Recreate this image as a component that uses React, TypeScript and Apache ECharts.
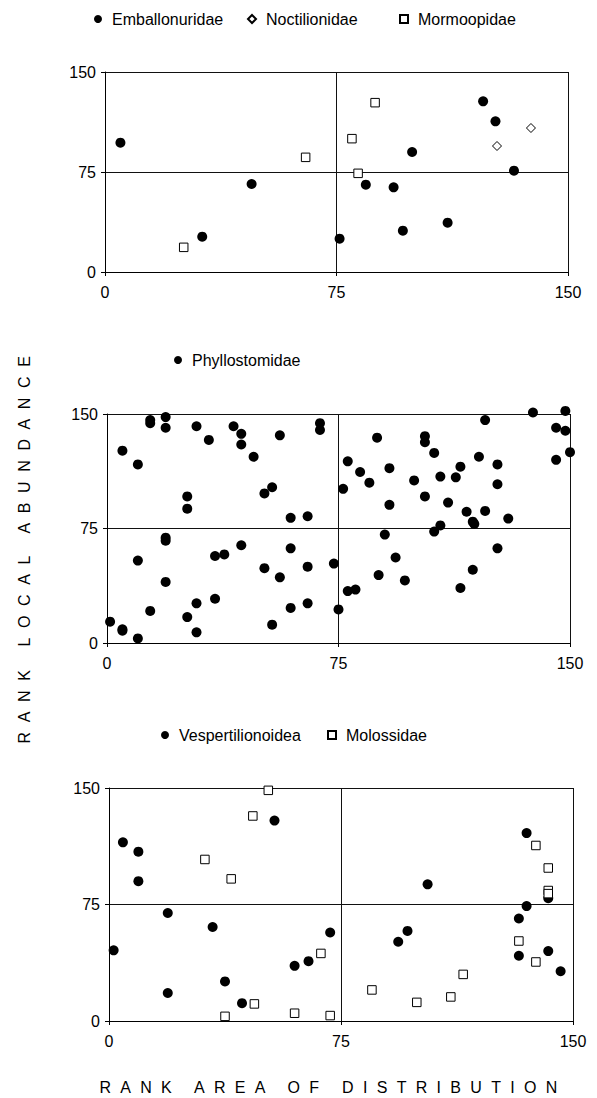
import React, { useEffect, useRef } from "react";
import * as echarts from "echarts";

// ---- data (rank area of distribution, rank local abundance) ----
const ticks = [0, 75, 150];

const emballonuridae: number[][] = [
  [5, 97], [31.5, 26.5], [47.5, 66], [76, 25], [84.5, 65.5], [93.5, 63.5],
  [96.5, 31], [99.5, 90], [111, 37], [122.5, 128], [126.5, 113], [132.5, 76],
];
const noctilionidae: number[][] = [[127, 94.5], [138, 108]];
const mormoopidae: number[][] = [
  [25.5, 18.5], [65, 86], [80, 100], [82, 74], [87.5, 127],
];

const phyllostomidae: number[][] = [
  [1, 14], [5, 126], [5, 9], [5, 8], [10, 117], [10, 54], [10, 3], [14, 146],
  [14, 144], [14, 21], [19, 148], [19, 141], [19, 69], [19, 67], [19, 40],
  [26, 96], [26, 88], [26, 17], [29, 142], [29, 26], [29, 7], [33, 133],
  [35, 57], [35, 29], [38, 58], [41, 142], [43.5, 137], [43.5, 130], [43.5, 64],
  [47.5, 122], [51, 98], [51, 49], [53.5, 102], [53.5, 12], [56, 136], [56, 43],
  [59.5, 82], [59.5, 62], [59.5, 23], [65, 83], [65, 50], [65, 26], [69, 144],
  [69, 139.5], [73.5, 52], [75, 22], [76.5, 101], [78, 119], [78, 34],
  [80.5, 35], [82, 112], [85, 105], [87.5, 134.5], [88, 44.5], [90, 71],
  [91.5, 114.5], [91.5, 90.5], [93.5, 56], [96.5, 41], [99.5, 106.5],
  [103, 135.5], [103, 131.5], [103, 96], [106, 124.5], [106, 73], [108, 77],
  [108, 109], [110.5, 92], [113, 108.5], [114.5, 115.5], [114.5, 36],
  [116.5, 86], [118.5, 79.5], [119, 78], [118.5, 48], [120.5, 122],
  [122.5, 146], [122.5, 86.5], [126.5, 117], [126.5, 104], [126.5, 62],
  [130, 81.5], [138, 151], [145.5, 141], [145.5, 120], [148.5, 152],
  [148.5, 139], [150, 125],
];

const vespertilionoidea: number[][] = [
  [1.5, 45.5], [4.5, 115], [9.5, 109], [9.5, 90], [19, 69.5], [19, 18],
  [33.5, 60.5], [37.5, 25.5], [43, 11.5], [53.5, 129], [60, 35.5], [64.5, 38.5],
  [71.5, 57], [93.5, 51], [96.5, 58], [103, 88], [132.5, 66], [132.5, 42],
  [135, 121], [135, 74], [142, 79], [142, 45], [146, 32],
];
const molossidae: number[][] = [
  [31, 104], [37.5, 3], [39.5, 91.5], [46.5, 132], [47, 11], [51.5, 148.5],
  [60, 5], [68.5, 43.5], [71.5, 3.5], [85, 20], [99.5, 12], [110.5, 15.5],
  [114.5, 30], [132.5, 51.5], [138, 113], [138, 38], [142, 98.5], [142, 84],
  [142, 82],
];

const xTitle = "RANK AREA OF DISTRIBUTION";
const yTitle = "RANK LOCAL ABUNDANCE";

const FONT = "'Liberation Sans', Arial, Helvetica, sans-serif";

export default function App() {
  const ref = useRef<HTMLDivElement>(null);

  useEffect(() => {
    if (!ref.current) return;
    const chart = echarts.init(ref.current, undefined, { renderer: "svg" });

    const grids = [
      { left: 105, top: 72, width: 463, height: 200 },
      { left: 107, top: 414, width: 463, height: 229 },
      { left: 109, top: 788, width: 464, height: 233 },
    ];

    const axisCommon = (gridIndex: number, isX: boolean) => ({
      gridIndex,
      type: "value",
      min: ticks[0],
      max: ticks[ticks.length - 1],
      interval: ticks[1] - ticks[0],
      axisLine: { show: true, onZero: false, lineStyle: { color: "#000", width: 1 } },
      axisTick: { show: true, length: 4, lineStyle: { color: "#000", width: 1 } },
      axisLabel: {
        color: "#000",
        fontSize: 16,
        fontFamily: FONT,
        margin: isX ? 12 : 9,
      },
      splitLine: { show: true, lineStyle: { color: "#111", width: 1 } },
    });

    const filled = { color: "#000", opacity: 1 };
    const hollow = { color: "#fff", borderColor: "#000", borderWidth: 1, opacity: 1 };

    const series: any[] = [
      { name: "Emballonuridae", data: emballonuridae, g: 0, symbol: "circle", size: 10, style: filled },
      { name: "Noctilionidae", data: noctilionidae, g: 0, symbol: "diamond", size: 9, style: hollow },
      { name: "Mormoopidae", data: mormoopidae, g: 0, symbol: "rect", size: 8.5, style: hollow },
      { name: "Phyllostomidae", data: phyllostomidae, g: 1, symbol: "circle", size: 10, style: filled },
      { name: "Vespertilionoidea", data: vespertilionoidea, g: 2, symbol: "circle", size: 10, style: filled },
      { name: "Molossidae", data: molossidae, g: 2, symbol: "rect", size: 8.5, style: hollow },
    ].map((s) => ({
      type: "scatter",
      name: s.name,
      data: s.data,
      xAxisIndex: s.g,
      yAxisIndex: s.g,
      symbol: s.symbol,
      symbolSize: s.size,
      itemStyle: s.style,
      clip: false,
      silent: true,
    }));

    const legendPos: [string, number, number][] = [
      ["Emballonuridae", 94, 11],
      ["Noctilionidae", 247, 11],
      ["Mormoopidae", 399, 11],
      ["Phyllostomidae", 174, 352],
      ["Vespertilionoidea", 161, 727],
      ["Molossidae", 327, 727],
    ];

    chart.setOption({
      animation: false,
      grid: grids,
      xAxis: grids.map((_, i) => axisCommon(i, true)),
      yAxis: grids.map((_, i) => axisCommon(i, false)),
      legend: legendPos.map(([name, left, top]) => ({
        data: [name],
        left,
        top,
        padding: 0,
        itemWidth: 8,
        itemHeight: 8,
        selectedMode: false,
        textStyle: {
          fontSize: 16,
          fontFamily: FONT,
          color: "#000",
          padding: [0, 0, 0, 5],
        },
      })),
      graphic: [
        {
          type: "text",
          id: "xTitle",
          x: 333,
          y: 1087,
          style: {
            text: xTitle,
            font: `16px ${FONT}`,
            fill: "#000",
            align: "center",
            verticalAlign: "middle",
          },
        },
        {
          type: "text",
          id: "yTitle",
          x: 24,
          y: 545,
          rotation: Math.PI / 2,
          style: {
            text: yTitle,
            font: `16px ${FONT}`,
            fill: "#000",
            align: "center",
            verticalAlign: "middle",
          },
        },
      ],
      series,
    });

    const applySpacing = () => {
      const root = ref.current;
      if (!root) return;
      root.querySelectorAll("text").forEach((t) => {
        const txt = t.textContent || "";
        if (txt === xTitle) t.setAttribute("letter-spacing", "9.3");
        if (txt === yTitle) t.setAttribute("letter-spacing", "9.6");
      });
    };
    applySpacing();
    chart.on("finished", applySpacing);
    const timer = window.setTimeout(applySpacing, 50);

    return () => {
      window.clearTimeout(timer);
      chart.dispose();
    };
  }, []);

  return (
    <div
      ref={ref}
      style={{ position: "absolute", left: 0, top: 0, width: 597, height: 1098, background: "#fff" }}
    />
  );
}
